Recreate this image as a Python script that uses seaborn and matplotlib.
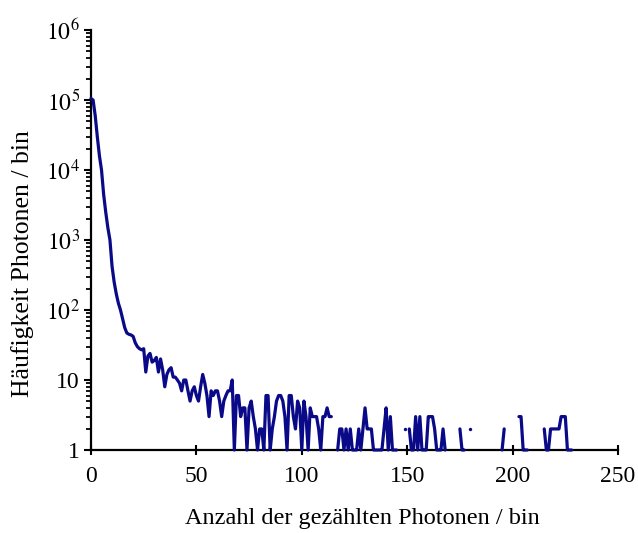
import numpy as np
import pandas as pd
import matplotlib
matplotlib.use("Agg")
import matplotlib.pyplot as plt
import seaborn as sns
from matplotlib.ticker import FixedLocator, FixedFormatter, LogLocator, NullFormatter

# ---- data ----
counts = [
    105000, 100000, 60000, 30000, 16000, 10000, 4500, 2500, 1500, 1000,   # 0-9
    420, 250, 170, 125, 100, 75, 56, 47, 45, 44,                          # 10-19
    42, 34, 30, 28, 27, 28, 13, 22, 24, 18,                               # 20-29
    19, 21, 13, 20, 14, 8, 12, 14, 15, 11,                                # 30-39
    11, 10, 9, 7, 10, 10, 7, 5, 7, 8,                                     # 40-49
    6, 5, 8, 12, 9, 6, 3, 7, 6, 7,                                        # 50-59
    7, 5, 3, 5, 6, 7, 7, 10, 1, 6,                                        # 60-69
    6, 3, 4, 4, 1, 4, 5, 3, 2, 1,                                         # 70-79
    2, 2, 1, 6, 6, 1, 2, 3, 5, 6,                                         # 80-89
    6, 5, 3, 1, 6, 6, 3, 2, 5, 4,                                         # 90-99
    1, 5, 3, 1, 4, 3, 3, 3, 2, 1,                                         # 100-109
    3, 3, 4, 3, 3, 0, 0, 1, 2, 2,                                         # 110-119
    1, 2, 1, 2, 1, 1, 1, 2, 1, 2,                                         # 120-129
    4, 2, 2, 2, 1, 1, 1, 1, 1, 2,                                         # 130-139
    4, 1, 3, 1, 1, 1, 0, 0, 0, 2,                                         # 140-149
    0, 2, 1, 1, 3, 1, 3, 1, 1, 1,                                         # 150-159
    3, 3, 3, 2, 1, 1, 1, 2, 1, 0,                                         # 160-169
    0, 0, 0, 0, 0, 2, 1, 1, 0, 0,                                         # 170-179
    2, 0, 0, 0, 0, 0, 0, 0, 0, 0,                                         # 180-189
    0, 0, 0, 0, 0, 1, 2, 0, 0, 0,                                         # 190-199
    0, 0, 0, 3, 3, 1, 1, 1, 0, 0,                                         # 200-209
    0, 0, 0, 0, 0, 2, 1, 1, 2, 2,                                         # 210-219
    2, 2, 2, 3, 3, 3, 1, 1, 1, 0,                                         # 220-229
]
photons = list(range(len(counts)))

x_ticks = [0, 50, 100, 150, 200, 250]
x_tick_labels = ["0", "50", "100", "150", "200", "250"]
y_ticks = [1, 10, 1e2, 1e3, 1e4, 1e5, 1e6]
y_tick_labels = ["1", "10", r"$10^{2}$", r"$10^{3}$", r"$10^{4}$", r"$10^{5}$", r"$10^{6}$"]
x_label = "Anzahl der gezählten Photonen / bin"
y_label = "Häufigkeit Photonen / bin"

# ---- build table: zero counts cannot be shown on a log axis -> gaps ----
df = pd.DataFrame({"x": photons, "y": counts})
df = df[df["y"] > 0].copy()
df["seg"] = (df["x"].diff() != 1).cumsum()
seg_sizes = df.groupby("seg")["x"].transform("size")
lines_df = df[seg_sizes > 1]
dots_df = df[seg_sizes == 1]

sns.set_style("ticks")
plt.rcParams["font.family"] = ["Liberation Serif", "DejaVu Serif"]
plt.rcParams["mathtext.fontset"] = "stix"

LINE = "#0a0a88"

fig = plt.figure(figsize=(6.38, 5.33), dpi=100)
ax = fig.add_axes([0.1426, 0.1557, 0.8261, 0.788])

sns.lineplot(data=lines_df, x="x", y="y", units="seg", estimator=None,
             color=LINE, linewidth=2.3, ax=ax, legend=False, clip_on=False,
             zorder=4)
sns.scatterplot(data=dots_df, x="x", y="y", color=LINE, s=6, linewidth=0,
                ax=ax, legend=False, zorder=4)

ax.set_yscale("log")
ax.set_xlim(0, 250)
ax.set_ylim(1, 1e6)

ax.xaxis.set_major_locator(FixedLocator(x_ticks))
ax.xaxis.set_major_formatter(FixedFormatter(x_tick_labels))
ax.yaxis.set_major_locator(FixedLocator(y_ticks))
ax.yaxis.set_major_formatter(FixedFormatter(y_tick_labels))
ax.yaxis.set_minor_locator(LogLocator(base=10, subs=np.arange(2, 10), numticks=20))
ax.yaxis.set_minor_formatter(NullFormatter())

for s in ["top", "right"]:
    ax.spines[s].set_visible(False)
for s in ["left", "bottom"]:
    ax.spines[s].set_linewidth(1.6)
    ax.spines[s].set_color("black")

ax.tick_params(axis="x", which="major", direction="inout", length=7, width=1.5,
               labelsize=17, pad=8, colors="black")
ax.tick_params(axis="y", which="major", direction="out", length=5, width=1.5,
               labelsize=17, pad=3, colors="black")
ax.tick_params(axis="y", which="minor", direction="out", length=3.5, width=1.3, colors="black")

ax.set_xlabel(x_label, fontsize=17.5, color="black")
ax.set_ylabel(y_label, fontsize=18.5, color="black")
ax.xaxis.label.set_verticalalignment("center")
ax.yaxis.label.set_verticalalignment("center")
ax.xaxis.set_label_coords(0.514, -0.162)
ax.yaxis.set_label_coords(-0.13, 0.443)

fig.savefig("out.png", dpi=100, facecolor="white")
